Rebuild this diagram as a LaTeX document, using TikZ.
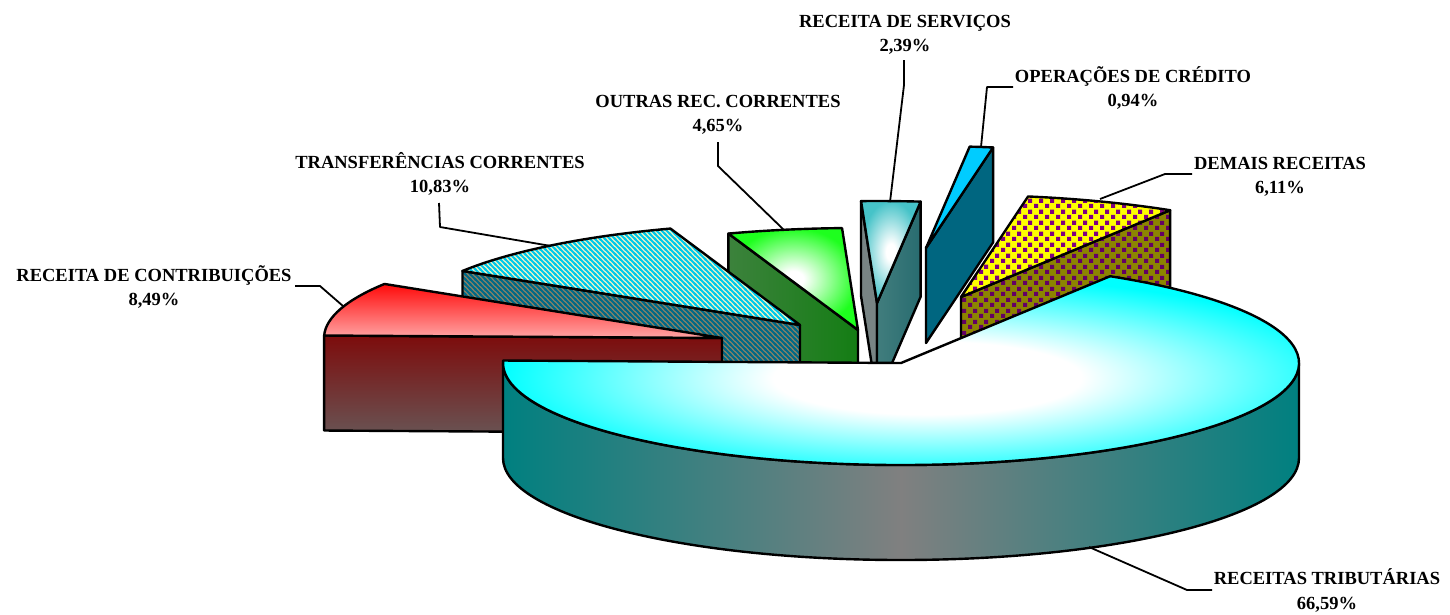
\documentclass[tikz,border=0pt]{standalone}
\usepackage{fontspec}
\setmainfont{Liberation Serif}
\usetikzlibrary{calc,patterns}

\definecolor{tealc}{RGB}{0,128,128}
\definecolor{grayc}{RGB}{128,128,128}
\definecolor{bigcyan}{RGB}{0,255,255}
\definecolor{redtopc}{RGB}{255,10,10}
\definecolor{redbotc}{RGB}{255,165,165}
\definecolor{rftop}{RGB}{125,12,12}
\definecolor{rfbot}{RGB}{105,82,82}
\definecolor{creamc}{RGB}{245,245,195}
\definecolor{strcyan}{RGB}{0,200,235}
\definecolor{trfbase}{RGB}{140,130,100}
\definecolor{trfstr}{RGB}{0,105,135}
\definecolor{gtop}{RGB}{30,255,30}
\definecolor{gfl}{RGB}{60,130,60}
\definecolor{gfm}{RGB}{128,128,128}
\definecolor{gfr}{RGB}{20,125,20}
\definecolor{svtop}{RGB}{70,195,200}
\definecolor{svleft}{RGB}{120,132,132}
\definecolor{svr1}{RGB}{65,125,125}
\definecolor{svr2}{RGB}{140,140,140}
\definecolor{svr3}{RGB}{40,108,112}
\definecolor{optop}{RGB}{0,204,255}
\definecolor{opfront}{RGB}{0,102,128}
\definecolor{dmyellow}{RGB}{255,255,0}
\definecolor{dmpurple}{RGB}{128,0,128}
\definecolor{dmolive}{RGB}{140,132,0}
\definecolor{dmdpurple}{RGB}{100,0,100}

\pgfdeclareradialshading{glowcyan}{\pgfpoint{0bp}{0bp}}{color(0bp)=(white); color(9bp)=(white); color(25bp)=(bigcyan); color(50bp)=(bigcyan)}
\pgfdeclareradialshading{glowgreen}{\pgfpoint{0bp}{0bp}}{color(0bp)=(white); color(4bp)=(white); color(25bp)=(gtop); color(50bp)=(gtop)}
\pgfdeclareradialshading{glowserv}{\pgfpoint{0bp}{0bp}}{color(0bp)=(white); color(4bp)=(white); color(25bp)=(svtop); color(50bp)=(svtop)}

\pgfdeclarepatternformonly{nwstripes}{\pgfpoint{-1pt}{-1pt}}{\pgfpoint{6pt}{6pt}}{\pgfpoint{5pt}{5pt}}{%
  \pgfsetlinewidth{1.8pt}%
  \pgfpathmoveto{\pgfpoint{-1pt}{6pt}}\pgfpathlineto{\pgfpoint{6pt}{-1pt}}%
  \pgfpathmoveto{\pgfpoint{-1pt}{1pt}}\pgfpathlineto{\pgfpoint{1pt}{-1pt}}%
  \pgfpathmoveto{\pgfpoint{4pt}{6pt}}\pgfpathlineto{\pgfpoint{6pt}{4pt}}%
  \pgfusepath{stroke}}

\pgfdeclarepatternformonly{dchecks}{\pgfpointorigin}{\pgfpoint{11pt}{11pt}}{\pgfpoint{11pt}{11pt}}{%
  \pgfpathrectangle{\pgfpoint{0pt}{0pt}}{\pgfpoint{4.5pt}{4.5pt}}%
  \pgfpathrectangle{\pgfpoint{5.5pt}{5.5pt}}{\pgfpoint{4.5pt}{4.5pt}}%
  \pgfusepath{fill}}

\begin{document}
\begin{tikzpicture}[x=1pt,y=1pt,line join=round,
  outl/.style={draw=black,line width=2.4pt},
  leader/.style={draw=black,line width=1.8pt},
  lbl/.style={font=\fontsize{18.5}{24}\selectfont\bfseries,inner sep=0pt,anchor=base},
  bigtop/.style={outl,shading=glowcyan},
  bigside/.style={outl,left color=tealc,right color=tealc,middle color=grayc},
  redtop/.style={outl,top color=redtopc,bottom color=redbotc},
  redfront/.style={outl,top color=rftop,bottom color=rfbot},
  trtop/.style={outl,preaction={fill=creamc},preaction={pattern=nwstripes,pattern color=strcyan}},
  trfront/.style={outl,preaction={fill=trfbase},preaction={pattern=nwstripes,pattern color=trfstr}},
  grtop/.style={outl,shading=glowgreen},
  grfront/.style={outl,left color=gfl,middle color=gfm,right color=gfr},
  svtopst/.style={outl,shading=glowserv},
  svleftst/.style={outl,fill=svleft},
  svrightst/.style={outl,left color=svr1,middle color=svr2,right color=svr3},
  optopst/.style={outl,fill=optop},
  opfrontst/.style={outl,fill=opfront},
  dmtop/.style={outl,preaction={fill=dmyellow},preaction={pattern=dchecks,pattern color=dmpurple}},
  dmfront/.style={outl,preaction={fill=dmolive},preaction={pattern=dchecks,pattern color=dmdpurple}}]

\useasboundingbox (0,0) rectangle (1450,-614);
\fill[white] (0,0) rectangle (1450,-614);

% apexes of the slices
\coordinate (A0) at (901,-363);   % receitas tributarias
\coordinate (A1) at (722,-338);   % contribuicoes
\coordinate (A2) at (800,-325);   % transferencias
\coordinate (A3) at (858,-330);   % outras
\coordinate (A4) at (877,-303);   % servicos
\coordinate (A5) at (926,-248);   % operacoes
\coordinate (A6) at (961,-297);   % demais

% Operacoes de credito
\draw[opfrontst] (A5) -- ++({398*cos(80.3)},{102*sin(80.3)}) -- ++(0,-95) -- ++({-398*cos(80.3)},{-102*sin(80.3)}) -- cycle;
\draw[optopst] (A5) -- ++({398*cos(80.3)},{102*sin(80.3)}) arc[start angle=80.3,end angle=83.7,x radius=398,y radius=102] -- cycle;

% Demais receitas
\draw[dmfront] (A6) -- ++({398*cos(58.3)},{102*sin(58.3)}) -- ++(0,-95) -- ++({-398*cos(58.3)},{-102*sin(58.3)}) -- cycle;
\draw[dmtop] (A6) -- ++({398*cos(58.3)},{102*sin(58.3)}) arc[start angle=58.3,end angle=80.3,x radius=398,y radius=102] -- cycle;

% Receita de servicos
\draw[svleftst] (A4) -- ++({398*cos(92.3)},{102*sin(92.3)}) -- ++(0,-95) -- ++({-398*cos(92.3)},{-102*sin(92.3)}) -- cycle;
\draw[svrightst] (A4) -- ++({398*cos(83.7)},{102*sin(83.7)}) -- ++(0,-95) -- ++({-398*cos(83.7)},{-102*sin(83.7)}) -- cycle;
\draw[svtopst] (A4) -- ++({398*cos(83.7)},{102*sin(83.7)}) arc[start angle=83.7,end angle=92.3,x radius=398,y radius=102] -- cycle;

% Outras rec. correntes
\draw[grfront] (A3) -- ++({398*cos(109)},{102*sin(109)}) -- ++(0,-95) -- ++({-398*cos(109)},{-102*sin(109)}) -- cycle;
\draw[grtop] (A3) -- ++({398*cos(92.3)},{102*sin(92.3)}) arc[start angle=92.3,end angle=109,x radius=398,y radius=102] -- cycle;

% Transferencias correntes
\draw[trfront] (A2) -- ++({398*cos(148)},{102*sin(148)}) -- ++(0,-95) -- ++({-398*cos(148)},{-102*sin(148)}) -- cycle;
\draw[trtop] (A2) -- ++({398*cos(109)},{102*sin(109)}) arc[start angle=109,end angle=148,x radius=398,y radius=102] -- cycle;

% Receita de contribuicoes
\draw[redfront] (A1) -- ++({398*cos(178.6)},{102*sin(178.6)}) -- ++(0,-95) -- ++({-398*cos(178.6)},{-102*sin(178.6)}) -- cycle;
\draw[redtop] (A1) -- ++({398*cos(148)},{102*sin(148)}) arc[start angle=148,end angle=178.6,x radius=398,y radius=102] -- cycle;

% Receitas tributarias
\draw[bigside] ($(A0)+(-398,0)$) -- ++(0,-95) arc[start angle=180,end angle=360,x radius=398,y radius=102] -- ++(0,95) arc[start angle=0,end angle=-180,x radius=398,y radius=102] -- cycle;
\draw[bigtop] (A0) -- ++({398*cos(58.3)},{102*sin(58.3)}) arc[start angle=58.3,end angle=-181.4,x radius=398,y radius=102] -- cycle;

% labels
\node[lbl] (sv1) at (905,-27) {RECEITA DE SERVIÇOS};
\node[lbl] (sv2) at (905,-51.5) {2,39\%};
\node[lbl] (op1) at (1133,-82) {OPERAÇÕES DE CRÉDITO};
\node[lbl] (op2) at (1133,-106) {0,94\%};
\node[lbl] (ou1) at (718,-107) {OUTRAS REC. CORRENTES};
\node[lbl] (ou2) at (718,-131.5) {4,65\%};
\node[lbl] (tr1) at (440,-168) {TRANSFERÊNCIAS CORRENTES};
\node[lbl] (tr2) at (440,-192.5) {10,83\%};
\node[lbl] (ct1) at (154,-281.5) {RECEITA DE CONTRIBUIÇÕES};
\node[lbl] (ct2) at (154,-305.5) {8,49\%};
\node[lbl] (dm1) at (1280,-169.5) {DEMAIS RECEITAS};
\node[lbl] (dm2) at (1280,-193.5) {6,11\%};
\node[lbl] (tb1) at (1327,-584.5) {RECEITAS TRIBUTÁRIAS};
\node[lbl] (tb2) at (1327,-609) {66,59\%};

% leader lines
\coordinate (ctA) at (295,-286); \coordinate (ctB) at (320,-286); \coordinate (ctC) at (343,-306);
\coordinate (trA) at (439,-203); \coordinate (trB) at (440,-227); \coordinate (trC) at (551,-246);
\coordinate (ouA) at (718,-142); \coordinate (ouB) at (718,-166); \coordinate (ouC) at (784,-230);
\coordinate (svA) at (904,-60);  \coordinate (svB) at (904,-85);  \coordinate (svC) at (890,-202);
\coordinate (opA) at (1013,-87); \coordinate (opB) at (987,-87);  \coordinate (opC) at (981,-147);
\coordinate (dmA) at (1192,-174); \coordinate (dmB) at (1165,-174); \coordinate (dmC) at (1100,-199);
\coordinate (tbA) at (1212,-590); \coordinate (tbB) at (1187,-590); \coordinate (tbC) at (1089,-547);
\draw[leader] (ctA) -- (ctB) -- (ctC);
\draw[leader] (trA) -- (trB) -- (trC);
\draw[leader] (ouA) -- (ouB) -- (ouC);
\draw[leader] (svA) -- (svB) -- (svC);
\draw[leader] (opA) -- (opB) -- (opC);
\draw[leader] (dmA) -- (dmB) -- (dmC);
\draw[leader] (tbA) -- (tbB) -- (tbC);
\end{tikzpicture}
\end{document}
